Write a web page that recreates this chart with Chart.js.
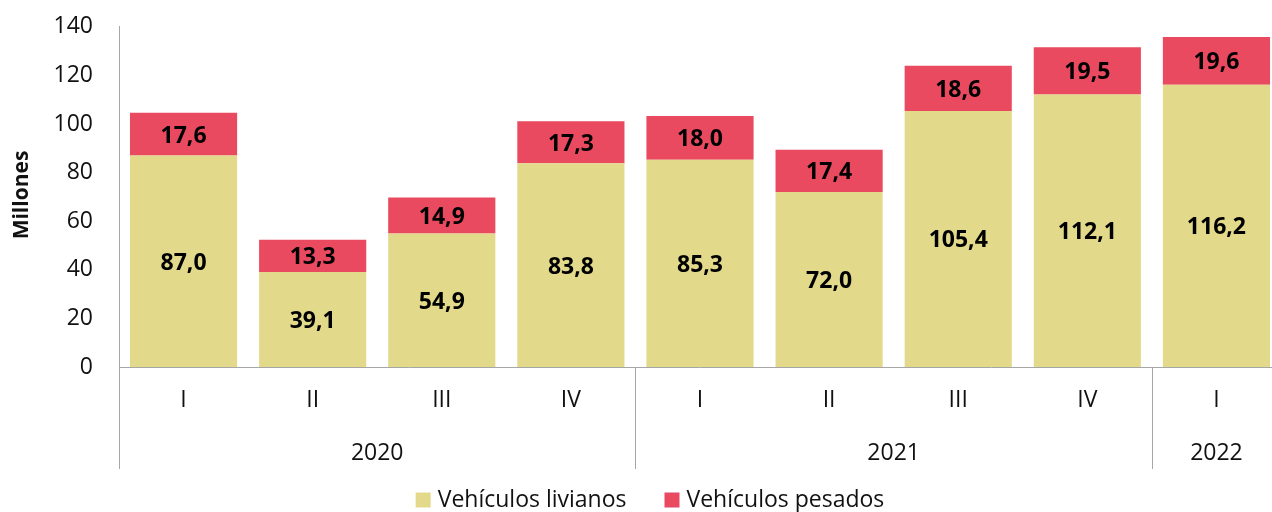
<!DOCTYPE html>
<html><head><meta charset="utf-8">
<script src="https://cdn.jsdelivr.net/npm/chart.js@4/dist/chart.umd.min.js"></script>
<style>
html,body{margin:0;padding:0;overflow:hidden;background:#fff;width:1272px;height:512px;}
#wrap{position:absolute;left:0;top:-13px;width:1300px;height:525px;}
</style></head><body>
<div id="wrap"><canvas id="c" width="1300" height="525"></canvas></div>
<script>
const quarters = ["I","II","III","IV","I","II","III","IV","I"];
const years = ["2020","2021","2022"];
const yearSpans = [4,4,1];
const livianos = [87.0,39.1,54.9,83.8,85.3,72.0,105.4,112.1,116.2];
const pesados = [17.6,13.3,14.9,17.3,18.0,17.4,18.6,19.5,19.6];
const seriesNames = ["Vehículos livianos","Vehículos pesados"];
const colors = ["#E2DA8A","#E94A5F"];
const yTicks = [0,20,40,60,80,100,120,140];

const FONT = "'Open Sans', sans-serif";
const AXIS = "#A6A6A6";
const TXT = "#111";
const OFF = 13;

const fmt = v => v.toFixed(1).replace('.', ',');

const extras = {
  id: 'extras',
  afterDatasetsDraw(chart){
    const ctx = chart.ctx;
    ctx.save();
    ctx.font = "bold 23px " + FONT;
    ctx.fillStyle = "#000";
    ctx.textAlign = 'center';
    ctx.textBaseline = 'middle';
    chart.data.datasets.forEach((ds, di) => {
      const meta = chart.getDatasetMeta(di);
      meta.data.forEach((el, i) => {
        const yc = (el.y + el.base) / 2 + 2;
        ctx.fillText(fmt(ds.data[i]), el.x, yc);
      });
    });
    ctx.restore();
  },
  afterDraw(chart){
    const ctx = chart.ctx;
    const a = chart.chartArea;
    ctx.save();
    ctx.strokeStyle = AXIS;
    ctx.lineWidth = 1;
    const step = (a.right - a.left) / quarters.length;
    let idx = 0;
    const bounds = [0];
    yearSpans.forEach(s => { idx += s; bounds.push(idx); });
    bounds.forEach(b => {
      const x = Math.round(a.left + b * step) + 0.5;
      ctx.beginPath();
      ctx.moveTo(x, a.bottom);
      ctx.lineTo(x, a.bottom + 102);
      ctx.stroke();
    });
    ctx.font = "23px " + FONT;
    ctx.fillStyle = TXT;
    ctx.textAlign = 'center';
    ctx.textBaseline = 'middle';
    years.forEach((y, i) => {
      const cx = a.left + (bounds[i] + bounds[i+1]) / 2 * step;
      ctx.fillText(y, cx, 453 + OFF);
    });
    ctx.save();
    ctx.translate(22, 195 + OFF);
    ctx.rotate(-Math.PI / 2);
    ctx.font = "bold 21px " + FONT;
    ctx.fillText("Millones", 0, 0);
    ctx.restore();
    ctx.font = "23px " + FONT;
    ctx.textAlign = 'left';
    const box = 15, gapBT = 7, gapItems = 38;
    const widths = seriesNames.map(n => box + gapBT + ctx.measureText(n).width);
    const total = widths.reduce((p, c) => p + c, 0) + gapItems;
    let x = 650 - total / 2;
    const ly = 500 + OFF;
    seriesNames.forEach((n, i) => {
      ctx.fillStyle = colors[i];
      ctx.fillRect(x, ly - box / 2, box, box);
      ctx.fillStyle = TXT;
      ctx.fillText(n, x + box + gapBT, ly);
      x += widths[i] + gapItems;
    });
    ctx.restore();
  }
};

new Chart(document.getElementById('c'), {
  type: 'bar',
  data: {
    labels: quarters,
    datasets: [
      { label: seriesNames[0], data: livianos, backgroundColor: colors[0], borderWidth: 0 },
      { label: seriesNames[1], data: pesados, backgroundColor: colors[1], borderWidth: 0 }
    ]
  },
  options: {
    responsive: false,
    animation: false,
    devicePixelRatio: 1,
    layout: { padding: { top: 12, right: 19, bottom: 0, left: 0 } },
    datasets: { bar: { categoryPercentage: 1, barPercentage: 0.83 } },
    plugins: { legend: { display: false }, tooltip: { enabled: false } },
    scales: {
      x: {
        stacked: true,
        grid: { display: false, drawTicks: false },
        border: { display: true, color: AXIS, width: 1 },
        ticks: { font: { family: FONT, size: 23 }, color: TXT, padding: 20, maxRotation: 0 },
        afterFit(s){ s.height = 145; }
      },
      y: {
        stacked: true,
        min: 0, max: 140,
        afterBuildTicks(s){ s.ticks = yTicks.map(v => ({ value: v })); },
        grid: { display: false, drawTicks: false },
        border: { display: true, color: AXIS, width: 1 },
        ticks: { font: { family: FONT, size: 23 }, color: TXT, padding: 26 },
        afterFit(s){ s.width = 119; }
      }
    }
  },
  plugins: [extras]
});
</script>
</body></html>
